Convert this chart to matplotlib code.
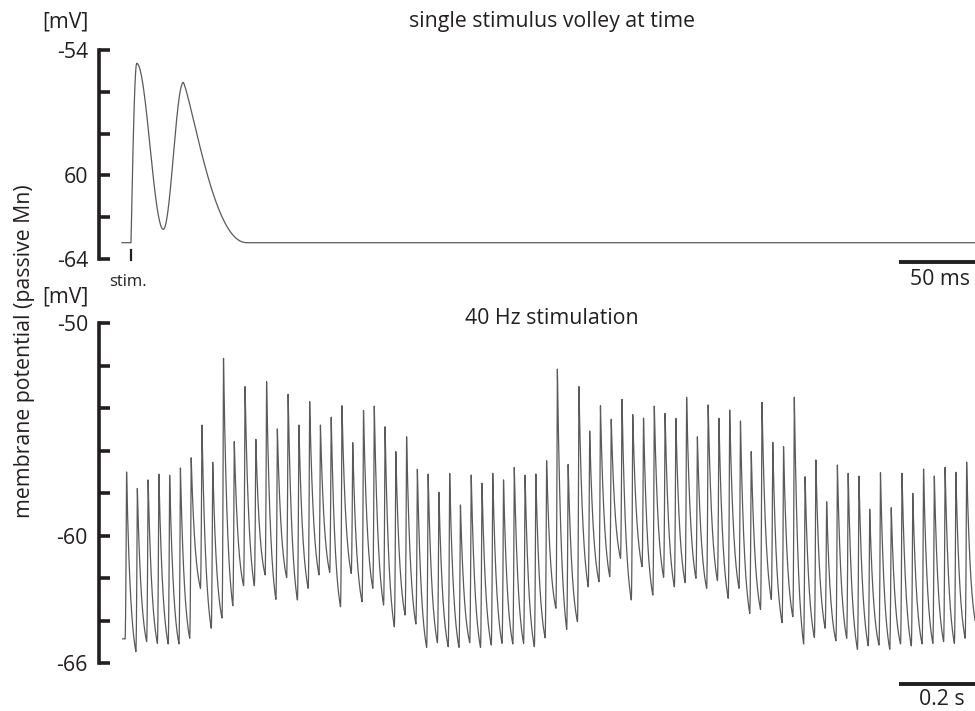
import numpy as np
import matplotlib.pyplot as plt

plt.rcParams['font.family'] = ['Open Sans', 'DejaVu Sans']
ink = '#231f20'
trace_col = '#5a5a5a'

# --- top panel: single stimulus volley (time in ms, potential in mV)
# turning points of the trace: rest, stimulus, 1st peak, dip, 2nd peak, back at rest, end
single_t = [0, 5.5, 9.0, 25.2, 37.4, 76.0, 520.0]
single_v = [-63.22, -63.22, -54.64, -62.58, -55.55, -63.22, -63.22]
stim_time = 5.5
top_ticks = [-54, -56, -58, -60, -62, -64]
top_ticklabels = ['-54', '', '', '60', '', '-64']

# --- bottom panel: 40 Hz train, peak and following trough of every response (mV)
train_peaks = [
    -57.00, -57.77, -57.37, -57.10, -57.15, -56.81, -56.33, -54.79, -56.54, -51.65,
    -55.57, -52.98, -55.46, -52.75, -54.97, -53.34, -54.79, -53.69, -54.79, -54.42,
    -53.88, -55.62, -54.11, -53.90, -54.87, -56.04, -55.34, -56.87, -57.10, -57.95,
    -57.06, -58.55, -57.14, -57.53, -57.06, -57.37, -56.78, -57.15, -57.09, -56.47,
    -52.16, -56.64, -52.98, -55.07, -53.88, -54.52, -53.58, -54.30, -54.46, -53.90,
    -54.24, -54.47, -53.48, -55.34, -53.84, -54.47, -54.08, -54.60, -56.04, -53.72,
    -55.60, -55.81, -53.48, -57.22, -56.43, -58.40, -56.67, -57.06, -57.19, -58.75,
    -57.03, -58.68, -57.06, -58.00, -56.86, -57.19, -56.78, -57.01, -56.53, -57.00]
train_troughs = [
    -65.45, -64.98, -65.06, -65.09, -65.09, -64.82, -62.47, -64.35, -63.87, -63.29,
    -62.35, -62.35, -61.84, -62.99, -61.97, -63.02, -62.47, -61.84, -61.72, -63.34,
    -61.77, -63.10, -62.47, -63.26, -64.28, -63.73, -64.15, -65.25, -65.03, -65.22,
    -65.25, -65.03, -65.25, -65.14, -65.06, -65.09, -65.06, -65.22, -64.80, -63.41,
    -64.40, -64.04, -62.40, -62.16, -61.92, -61.06, -63.02, -61.45, -62.79, -61.95,
    -62.40, -62.20, -62.00, -62.47, -62.11, -62.94, -62.47, -63.65, -63.46, -62.99,
    -64.09, -63.81, -65.09, -64.78, -64.35, -64.94, -64.82, -65.34, -65.18, -65.14,
    -65.34, -65.09, -65.18, -65.09, -65.06, -64.98, -65.06, -64.82, -64.20, -64.90]
train_start_v = -64.85
rate_hz = 40
first_spike = 0.009   # s
bottom_ticks = [-50, -52, -54, -56, -58, -60, -62, -64, -66]
bottom_ticklabels = ['-50', '', '', '', '', '-60', '', '', '-66']


def volley(tk, vk, n=4000):
    # smooth segments between the turning points
    shapes = ['flat', 'sin', 'cos', 'cos', 'tail', 'flat']
    t = np.linspace(tk[0], tk[-1], n)
    v = np.empty_like(t)
    for i, kind in enumerate(shapes):
        m = (t >= tk[i]) & (t <= tk[i + 1])
        s = (t[m] - tk[i]) / (tk[i + 1] - tk[i])
        if kind == 'flat':
            f = np.zeros_like(s)
        elif kind == 'sin':
            f = np.sin(np.pi / 2 * s)
        elif kind == 'cos':
            f = 0.5 * (1 - np.cos(np.pi * s))
        else:
            f = 0.5 * (1 - np.cos(np.pi * s**0.62))
        v[m] = vk[i] + (vk[i + 1] - vk[i]) * f
    return t, v


def spike_train(peaks, troughs, v0, t_first, period, rise=0.0035, tau=0.01, dt=0.0001):
    peaks = np.asarray(peaks)
    troughs = np.asarray(troughs)
    n = len(peaks)
    t = np.arange(0, t_first + period * n, dt)
    x = t - (t_first - rise)
    k = np.floor(x / period).astype(int)
    u = x - k * period
    kk = np.clip(k, 0, n - 1)
    prev = np.where(kk > 0, troughs[kk - 1], v0)
    p = peaks[kk]
    tr = troughs[kk]
    decay = period - rise
    s_up = np.clip(u / rise, 0, 1)
    v_up = prev + (p - prev) * (1 - np.cos(np.pi / 2 * s_up))
    s_dn = np.clip(u - rise, 0, decay)
    e = (np.exp(-s_dn / tau) - np.exp(-decay / tau)) / (1 - np.exp(-decay / tau))
    v_dn = tr + (p - tr) * e
    v = np.where(u < rise, v_up, v_dn)
    v = np.where(k < 0, v0, v)
    return t, v


fig = plt.figure(figsize=(9.75, 7.11), dpi=100)
W, H = 975, 711
fs = 15.3

def style_axis(ax, ticks, labels):
    for side in ['top', 'right', 'bottom']:
        ax.spines[side].set_visible(False)
    ax.spines['left'].set_linewidth(2.6)
    ax.spines['left'].set_color(ink)
    ax.set_yticks(ticks)
    ax.set_yticklabels(labels)
    ax.tick_params(axis='y', direction='in', length=8, width=2.6, color=ink,
                   labelsize=fs, labelcolor=ink, pad=8)
    ax.set_xticks([])
    ax.patch.set_visible(False)

# top panel
px_per_ms = 1.64
ax1 = fig.add_axes([99 / W, (H - 259) / H, 876 / W, 209 / H])
tt, vv = volley(single_t, single_v)
ax1.plot(tt, vv, color=trace_col, lw=0.9, clip_on=False)
ax1.set_xlim(-23 / px_per_ms, 853 / px_per_ms)
ax1.set_ylim(-64, -54)
style_axis(ax1, top_ticks, top_ticklabels)
ax1.plot([stim_time, stim_time], [-63.55, -64.05], color=ink, lw=1.6, clip_on=False)
bar1 = 777 / px_per_ms
ax1.plot([bar1, bar1 + 50], [-64.14, -64.14], color=ink, lw=2.8,
         solid_capstyle='butt', clip_on=False)
ax1.text(bar1 + 25, -65.0, '50 ms', ha='center', va='center', fontsize=fs, color=ink)

# bottom panel
px_per_s = 430.8
t2, v2 = spike_train(train_peaks, train_troughs, train_start_v, first_spike, 1 / rate_hz)
ax2 = fig.add_axes([99 / W, (H - 663.3) / H, 876 / W, 340 / H])
ax2.plot(t2, v2, color=trace_col, lw=0.9)
ax2.set_xlim(-23.7 / px_per_s, 852.3 / px_per_s)
ax2.set_ylim(-66, -50)
style_axis(ax2, bottom_ticks, bottom_ticklabels)
bar2 = 776.3 / px_per_s
ax2.plot([bar2, bar2 + 0.2], [-66.97, -66.97], color=ink, lw=2.8,
         solid_capstyle='butt', clip_on=False)
ax2.text(bar2 + 0.1, -67.72, '0.2 s', ha='center', va='center', fontsize=fs, color=ink)

# labels
fig.text(65 / W, 1 - 22 / H, '[mV]', ha='center', va='center', fontsize=fs, color=ink)
fig.text(65 / W, 1 - 297 / H, '[mV]', ha='center', va='center', fontsize=fs, color=ink)
fig.text(552 / W, 1 - 22 / H, 'single stimulus volley at time', ha='center', va='center',
         fontsize=fs, color=ink)
fig.text(552 / W, 1 - 318 / H, '40 Hz stimulation', ha='center', va='center',
         fontsize=fs, color=ink)
fig.text(128 / W, 1 - 282 / H, 'stim.', ha='center', va='center', fontsize=12, color=ink)
fig.text(25 / W, 1 - 351 / H, 'membrane potential (passive Mn)', rotation=90,
         ha='center', va='center', fontsize=fs, color=ink)

fig.savefig('out.png', dpi=100)
